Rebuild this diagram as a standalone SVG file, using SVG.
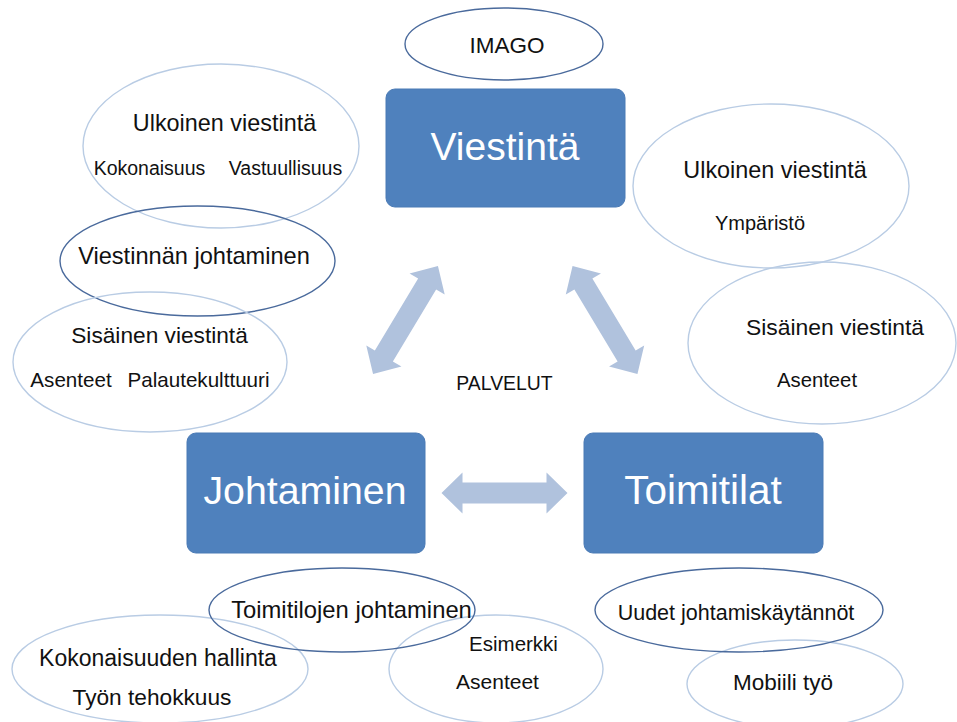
<svg xmlns="http://www.w3.org/2000/svg" xmlns:xlink="http://www.w3.org/1999/xlink" width="957" height="722" viewBox="0 0 957 722">
<style>
  text { font-family: "Liberation Sans", Arial, sans-serif; fill: #111; text-anchor: middle; }
  .box { fill: #4f81bd; stroke: #4a7ab5; stroke-width: 1; }
  .boxt { fill: #ffffff; }
  .dark { fill: none; stroke: #4a6a9c; stroke-width: 1.4; }
  .light { fill: none; stroke: #b9cce4; stroke-width: 1.4; }
  .arrow { fill: #b0c2dd; }
</style>
<defs>
  <polygon id="dbl" points="-63,0 -42,-20.5 -42,-10.5 42,-10.5 42,-20.5 63,0 42,20.5 42,10.5 -42,10.5 -42,20.5"/>
</defs>
<rect width="957" height="722" fill="#ffffff"/>

<g id="connectors" class="arrow">
  <use xlink:href="#dbl" href="#dbl" transform="translate(405.5,320) rotate(-59)"/>
  <use xlink:href="#dbl" href="#dbl" transform="translate(605,320) rotate(59)"/>
  <use xlink:href="#dbl" href="#dbl" transform="translate(504.5,493)"/>
</g>

<g id="imago">
  <ellipse class="dark" cx="504" cy="44" rx="99" ry="36"/>
  <text x="507" y="53" font-size="22.5">IMAGO</text>
</g>

<g id="viestinta">
  <rect class="box" x="386" y="89" width="239" height="118" rx="9"/>
  <text class="boxt" x="505" y="160" font-size="39">Viestintä</text>
</g>

<g id="johtaminen">
  <rect class="box" x="187" y="433" width="238" height="120" rx="9"/>
  <text class="boxt" x="305" y="504" font-size="39.3">Johtaminen</text>
</g>

<g id="toimitilat">
  <rect class="box" x="584" y="433" width="239" height="120" rx="9"/>
  <text class="boxt" x="703" y="504" font-size="40.5">Toimitilat</text>
</g>

<g id="palvelut">
  <text x="504.5" y="390" font-size="19.4">PALVELUT</text>
</g>

<g id="ulkoinen-vasen">
  <ellipse class="light" cx="221" cy="146" rx="138" ry="82"/>
  <text x="224.5" y="131" font-size="23.4">Ulkoinen viestintä</text>
  <text x="149.5" y="175" font-size="19.5">Kokonaisuus</text>
  <text x="285.5" y="175" font-size="19.5">Vastuullisuus</text>
</g>

<g id="viestinnan-johtaminen">
  <ellipse class="dark" cx="197.5" cy="261" rx="137.5" ry="55"/>
  <text x="194" y="264" font-size="23.6">Viestinnän johtaminen</text>
</g>

<g id="sisainen-vasen">
  <ellipse class="light" cx="150" cy="362" rx="137" ry="70"/>
  <text x="159.5" y="343" font-size="22.7">Sisäinen viestintä</text>
  <text x="71" y="387" font-size="20.6">Asenteet</text>
  <text x="198.5" y="387" font-size="20.6">Palautekulttuuri</text>
</g>

<g id="ulkoinen-oikea">
  <ellipse class="light" cx="771" cy="186" rx="138" ry="82"/>
  <text x="775" y="178" font-size="23.4">Ulkoinen viestintä</text>
  <text x="760" y="230" font-size="20">Ympäristö</text>
</g>

<g id="sisainen-oikea">
  <ellipse class="light" cx="822" cy="343" rx="134" ry="81"/>
  <text x="835" y="335" font-size="22.9">Sisäinen viestintä</text>
  <text x="817" y="387" font-size="20.3">Asenteet</text>
</g>

<g id="kokonaisuuden-hallinta">
  <ellipse class="light" cx="160" cy="669" rx="148" ry="54"/>
  <text x="158" y="666" font-size="23">Kokonaisuuden hallinta</text>
  <text x="152" y="705" font-size="22.7">Työn tehokkuus</text>
</g>

<g id="esimerkki">
  <ellipse class="light" cx="496" cy="669" rx="107" ry="54"/>
  <text x="513.5" y="651" font-size="20.5">Esimerkki</text>
  <text x="497.5" y="689" font-size="21">Asenteet</text>
</g>

<g id="toimitilojen-johtaminen">
  <ellipse class="dark" cx="342" cy="610" rx="133" ry="42"/>
  <text x="351.5" y="618" font-size="23.8">Toimitilojen johtaminen</text>
</g>

<g id="mobiili-tyo">
  <ellipse class="light" cx="795" cy="684" rx="108" ry="44"/>
  <text x="783" y="690" font-size="22.5">Mobiili työ</text>
</g>

<g id="uudet-johtamiskaytannot">
  <ellipse class="dark" cx="739" cy="610" rx="144" ry="42"/>
  <text x="736" y="620" font-size="21.5">Uudet johtamiskäytännöt</text>
</g>
</svg>
